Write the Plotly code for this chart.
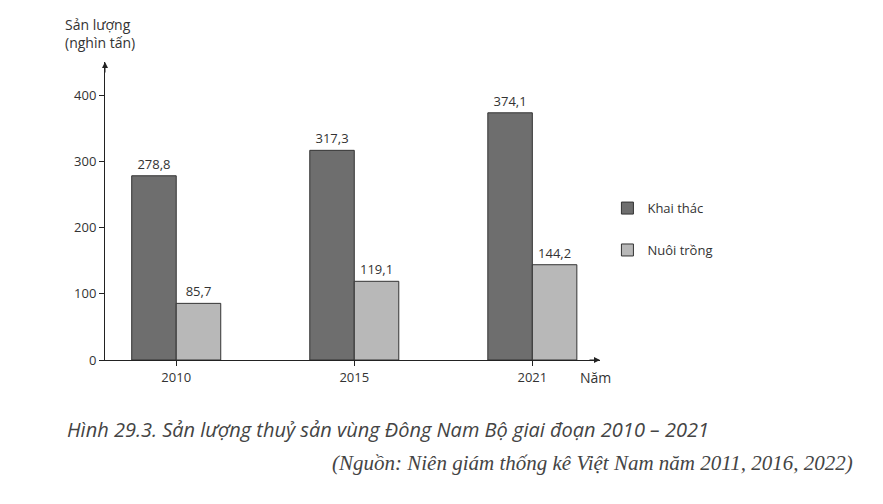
import plotly.graph_objects as go

years = ['2010', '2015', '2021']
khai_thac = [278.8, 317.3, 374.1]
nuoi_trong = [85.7, 119.1, 144.2]
y_ticks = [0, 100, 200, 300, 400]

def fmt(v):
    return f"{v:.1f}".replace('.', ',')

fig = go.Figure()
fig.add_trace(go.Bar(x=[0, 1, 2], y=khai_thac, name='Khai thác', marker_color='#6e6e6e',
                     marker_line=dict(color='#333', width=1), text=[fmt(v) for v in khai_thac],
                     textposition='outside', textfont=dict(size=13, color='#333'), legendgroup='a'))
fig.add_trace(go.Bar(x=[0, 1, 2], y=nuoi_trong, name='Nuôi trồng', marker_color='#b8b8b8',
                     marker_line=dict(color='#333', width=1), text=[fmt(v) for v in nuoi_trong],
                     textposition='outside', textfont=dict(size=13, color='#333'), legendgroup='b'))

fig.update_layout(
    width=883, height=504, plot_bgcolor='white', paper_bgcolor='white',
    margin=dict(l=97, r=291, t=54, b=152, autoexpand=False),
    barmode='group', bargap=0.5, bargroupgap=0,
    font=dict(family='Open Sans', size=13, color='#333'),
    legend=dict(x=1.015, y=0.56, xanchor='left', yanchor='top', tracegroupgap=22,
                font=dict(size=13), itemwidth=30),
    showlegend=True,
)
fig.update_xaxes(range=[-0.4, 2.38], tickvals=[0, 1, 2], ticktext=years, showline=True,
                 linecolor='#222', linewidth=1, ticks='outside', ticklen=5, tickcolor='#222',
                 showgrid=False, zeroline=False)
fig.update_yaxes(range=[0, 451], tickvals=y_ticks, showline=True, linecolor='#222', linewidth=1,
                 ticks='outside', ticklen=5, tickcolor='#222', showgrid=False, zeroline=False)

# arrows
fig.add_annotation(x=0, y=1.0, xref='paper', yref='paper', ax=0, ay=12, text='', showarrow=True,
                   arrowhead=2, arrowsize=1.2, arrowwidth=1, arrowcolor='#222')
fig.add_annotation(x=1.0, y=0, xref='paper', yref='paper', ax=-12, ay=0, text='', showarrow=True,
                   arrowhead=2, arrowsize=1.2, arrowwidth=1, arrowcolor='#222')
fig.add_annotation(x=-0.085, y=1.165, xref='paper', yref='paper', xanchor='left', yanchor='top',
                   text='Sản lượng<br>(nghìn tấn)', showarrow=False, align='left', font=dict(size=14))
fig.add_annotation(x=0.955, y=-0.02, xref='paper', yref='paper', xanchor='left', yanchor='top',
                   text='Năm', showarrow=False, font=dict(size=14))
fig.add_annotation(x=-0.08, y=-0.18, xref='paper', yref='paper', xanchor='left', yanchor='top',
                   text='<i>Hình 29.3. Sản lượng thuỷ sản vùng Đông Nam Bộ giai đoạn 2010 – 2021</i>',
                   showarrow=False, font=dict(size=20, color='#444'))
fig.add_annotation(x=1.515, y=-0.3, xref='paper', yref='paper', xanchor='right', yanchor='top',
                   text='<i>(Nguồn: Niên giám thống kê Việt Nam năm 2011, 2016, 2022)</i>',
                   showarrow=False, font=dict(size=21, color='#444', family='Liberation Serif'))

fig.write_html("out.html")
